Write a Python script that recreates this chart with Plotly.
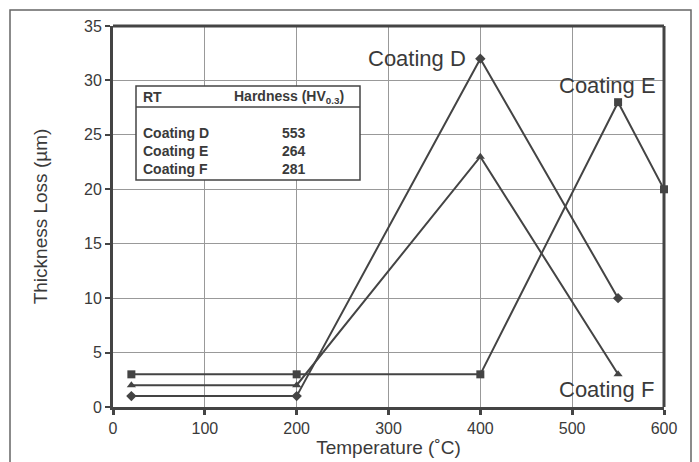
import plotly.graph_objects as go

temp_D = [20, 200, 400, 550]
loss_D = [1, 1, 32, 10]
temp_E = [20, 200, 400, 550, 600]
loss_E = [3, 3, 3, 28, 20]
temp_F = [20, 200, 400, 550]
loss_F = [2, 2, 23, 3]

table_names = ["Coating D", "Coating E", "Coating F"]
table_hardness = ["553", "264", "281"]

C = "#444444"
TXT = "#3a3a3a"
FONT = "Liberation Sans, Arial, sans-serif"

fig = go.Figure()
for x, y, sym, name in [(temp_D, loss_D, "diamond", "Coating D"),
                        (temp_E, loss_E, "square", "Coating E"),
                        (temp_F, loss_F, "triangle-up", "Coating F")]:
    fig.add_trace(go.Scatter(x=x, y=y, mode="lines+markers", name=name,
                             line=dict(color=C, width=2),
                             marker=dict(symbol=sym, size=8, color=C),
                             cliponaxis=False, showlegend=False))

W, H = 699, 462
L, R, T, B = 113, 35, 26, 55
pw, ph = W - L - R, H - T - B

def px(xp):
    return (xp - L) / pw
def py(yp):
    return (H - B - yp) / ph

shapes = [
    dict(type="rect", xref="paper", yref="paper", x0=px(10), x1=px(691), y0=py(475), y1=py(10),
         line=dict(color="#666666", width=1.5)),
    dict(type="line", xref="paper", yref="paper", x0=0, x1=1, y0=1, y1=1, line=dict(color=C, width=3)),
    dict(type="line", xref="paper", yref="paper", x0=1, x1=1, y0=0, y1=1, line=dict(color=C, width=3)),
    dict(type="rect", xref="paper", yref="paper", x0=px(136), x1=px(360), y0=py(180), y1=py(86),
         line=dict(color=C, width=1.5), fillcolor="white", layer="above"),
    dict(type="line", xref="paper", yref="paper", x0=px(136), x1=px(360), y0=py(107), y1=py(107),
         line=dict(color=C, width=1.5), layer="above"),
]

ann = []
tf = dict(family=FONT, size=14, color=TXT)
ann.append(dict(x=px(141), y=py(97), xref="paper", yref="paper", text="<b>RT</b>",
                showarrow=False, xanchor="left", yanchor="middle", font=tf))
ann.append(dict(x=px(232), y=py(97), xref="paper", yref="paper",
                text="<b>Hardness (HV<sub>0.3</sub>)</b>",
                showarrow=False, xanchor="left", yanchor="middle", font=tf))
for i, (n, h) in enumerate(zip(table_names, table_hardness)):
    yy = 133 + 18 * i
    ann.append(dict(x=px(141), y=py(yy), xref="paper", yref="paper", text=f"<b>{n}</b>",
                    showarrow=False, xanchor="left", yanchor="middle", font=tf))
    ann.append(dict(x=px(280), y=py(yy), xref="paper", yref="paper", text=f"<b>{h}</b>",
                    showarrow=False, xanchor="left", yanchor="middle", font=tf))

lf = dict(family=FONT, size=22, color=TXT)
ann.append(dict(x=px(417), y=py(59), xref="paper", yref="paper", text="Coating D",
                showarrow=False, font=lf, xanchor="center", yanchor="middle"))
ann.append(dict(x=px(607), y=py(85), xref="paper", yref="paper", text="Coating E",
                showarrow=False, font=lf, xanchor="center", yanchor="middle"))
ann.append(dict(x=px(606), y=py(389), xref="paper", yref="paper", text="Coating F",
                showarrow=False, font=lf, xanchor="center", yanchor="middle"))

fig.update_layout(
    width=W, height=H,
    margin=dict(l=L, r=R, t=T, b=B),
    plot_bgcolor="white", paper_bgcolor="white",
    font=dict(family=FONT, size=16, color=TXT),
    shapes=shapes, annotations=ann,
    xaxis=dict(range=[0, 600], dtick=100, showgrid=True, gridcolor="#999999", gridwidth=1,
               showline=True, linecolor=C, linewidth=3, ticks="outside", ticklen=5,
               tickwidth=3, tickcolor=C, zeroline=False, automargin=False,
               title=dict(text="Temperature (˚C)", font=dict(size=19), standoff=0),
               tickfont=dict(size=16)),
    yaxis=dict(range=[0, 35], dtick=5, showgrid=True, gridcolor="#999999", gridwidth=1,
               showline=True, linecolor=C, linewidth=3, ticks="outside", ticklen=5,
               tickwidth=2, tickcolor=C, zeroline=False, automargin=False,
               title=dict(text="Thickness Loss (µm)", font=dict(size=19), standoff=32),
               tickfont=dict(size=16)),
)

fig.write_html("out.html", config={"displayModeBar": False},
               post_script="document.body.style.margin='0';document.body.style.padding='0';")
